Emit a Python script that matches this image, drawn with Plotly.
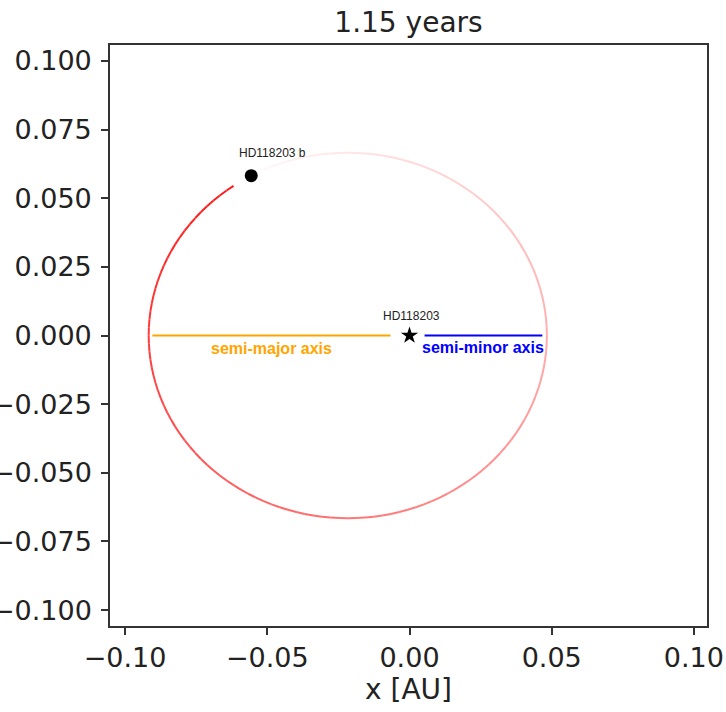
import numpy as np
import plotly.graph_objects as go

# ---- data ----
title_text = "1.15 years"
semi_major = 0.0700          # AU (orbit semi-major axis)
eccentricity = 0.31
planet_anomaly_deg = 119.0   # eccentric anomaly of current planet position
trail_start_deg = 125.0      # newest trail point (just behind the planet)
trail_span_deg = 350.0       # trail length (backwards in time)
trail_alpha = [0.9, 0.04]    # newest -> oldest opacity

star_name = "HD118203"
planet_name = "HD118203 b"
star_pos = [0.0, 0.0]
semi_major_line_x = [-0.0904, -0.0067]
semi_major_line_y = [0.0, 0.0]
semi_minor_line_x = [0.0053, 0.0467]
semi_minor_line_y = [0.0, 0.0]

x_ticks = [-0.10, -0.05, 0.0, 0.05, 0.10]
y_ticks = [0.100, 0.075, 0.050, 0.025, 0.0, -0.025, -0.050, -0.075, -0.100]

# ---- geometry ----
a = semi_major
c = a * eccentricity
b = a * np.sqrt(1 - eccentricity ** 2)


def orbit_xy(E_deg):
    E = np.radians(E_deg)
    return -c + a * np.cos(E), b * np.sin(E)


fig = go.Figure()

n_seg = 140
E_vals = np.linspace(trail_start_deg, trail_start_deg + trail_span_deg, n_seg + 1)
alphas = np.linspace(trail_alpha[0], trail_alpha[1], n_seg)
for i in range(n_seg):
    xs, ys = orbit_xy(np.linspace(E_vals[i], E_vals[i + 1], 4))
    fig.add_trace(go.Scatter(
        x=xs, y=ys, mode="lines",
        line=dict(color=f"rgba(255,0,0,{alphas[i]:.3f})", width=2),
        hoverinfo="skip", showlegend=False))

# semi-axis lines
fig.add_trace(go.Scatter(x=semi_major_line_x, y=semi_major_line_y, mode="lines",
                         line=dict(color="#ffa500", width=2.2), showlegend=False))
fig.add_trace(go.Scatter(x=semi_minor_line_x, y=semi_minor_line_y, mode="lines",
                         line=dict(color="#0000ff", width=2.2), showlegend=False))

# star
fig.add_trace(go.Scatter(x=[star_pos[0]], y=[star_pos[1]], mode="markers",
                         marker=dict(symbol="star", size=13, color="black"),
                         showlegend=False))
# planet
px, py = orbit_xy(planet_anomaly_deg)
fig.add_trace(go.Scatter(x=[px], y=[py], mode="markers",
                         marker=dict(symbol="circle", size=13, color="black"),
                         showlegend=False))

ann_font = dict(family="Liberation Sans, Arial, sans-serif", size=12, color="#222")
fig.add_annotation(x=px + 0.0075, y=py + 0.0084, text=planet_name, showarrow=False,
                   font=ann_font, xanchor="center", yanchor="middle")
fig.add_annotation(x=star_pos[0] + 0.0006, y=star_pos[1] + 0.0070, text=star_name,
                   showarrow=False, font=ann_font, xanchor="center", yanchor="middle")
fig.add_annotation(x=np.mean(semi_major_line_x), y=-0.0047, text="<b>semi-major axis</b>",
                   showarrow=False, xanchor="center", yanchor="middle",
                   font=dict(family="Liberation Sans, Arial, sans-serif", size=16, color="#ffa500"))
fig.add_annotation(x=np.mean(semi_minor_line_x), y=-0.0044, text="<b>semi-minor axis</b>",
                   showarrow=False, xanchor="center", yanchor="middle",
                   font=dict(family="Liberation Sans, Arial, sans-serif", size=16, color="#0000ff"))

tick_font = dict(family="DejaVu Sans", size=27, color="#222")
axis_common = dict(showgrid=False, zeroline=False, showline=True, linecolor="#333",
                   linewidth=1.6, mirror=True, ticks="outside", ticklen=7, tickwidth=1.6,
                   tickcolor="#333", tickfont=tick_font, automargin=False)

fig.update_layout(
    width=726, height=712,
    margin=dict(l=110, r=19, t=45, b=86),
    paper_bgcolor="white", plot_bgcolor="white",
    title=dict(text=title_text, x=408.5 / 726, xanchor="center", y=1 - 22 / 712, yanchor="middle",
               font=dict(family="DejaVu Sans", size=28, color="#222")),
    xaxis=dict(range=[-0.1053, 0.1046], tickvals=x_ticks,
               ticktext=[f"{v:.2f}".replace("-", "\u2212") for v in x_ticks],
               title=dict(text="x [AU]", font=dict(family="DejaVu Sans", size=28, color="#222"),
                          standoff=6),
               **axis_common),
    yaxis=dict(range=[-0.1058, 0.1058], tickvals=y_ticks,
               ticktext=[f"{v:.3f}".replace("-", "\u2212") for v in y_ticks],
               ticklabelstandoff=4,
               **axis_common),
)

fig.write_html("out.html")
